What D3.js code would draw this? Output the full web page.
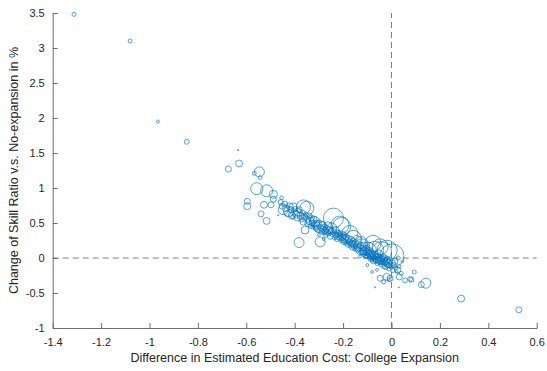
<!DOCTYPE html>
<html>
<head>
<meta charset="utf-8">
<script src="https://cdn.jsdelivr.net/npm/d3@7/dist/d3.min.js"></script>
<style>
  html, body { margin: 0; padding: 0; background: #fff; }
  svg { display: block; }
  text { font-family: "Liberation Sans", Arial, Helvetica, sans-serif; fill: #262626; }
</style>
</head>
<body>
<svg id="chart" width="547" height="371"></svg>
<script>
// Axis ticks
const xTicks = [-1.4, -1.2, -1, -0.8, -0.6, -0.4, -0.2, 0, 0.2, 0.4, 0.6];
const yTicks = [-1, -0.5, 0, 0.5, 1, 1.5, 2, 2.5, 3, 3.5];

// Regions: [cost difference, change of skill ratio (%), weight]
// Isolated regions far from the main band
const outliers = [
  [-1.312, 3.48, 4], [-1.080, 3.10, 4], [-0.965, 1.95, 2.2], [-0.846, 1.66, 6],
  [-0.674, 1.27, 9], [-0.630, 1.35, 12], [-0.634, 1.54, 0.4], [-0.546, 1.23, 25],
  [-0.567, 1.21, 4], [-0.543, 1.15, 4], [-0.557, 0.99, 36], [-0.516, 0.96, 36],
  [-0.488, 0.91, 16], [-0.596, 0.81, 9], [-0.596, 0.74, 12], [-0.527, 0.76, 12],
  [-0.498, 0.76, 9], [-0.488, 0.84, 9], [-0.539, 0.63, 9], [-0.516, 0.53, 12],
  [-0.454, 0.86, 3.5], [-0.382, 0.22, 25], [-0.468, 0.61, 0.4]
];

// Upper part of the band
const bandUpper = [
  [-0.458, 0.80, 6], [-0.452, 0.74, 9], [-0.447, 0.69, 25], [-0.441, 0.77, 9],
  [-0.436, 0.71, 12], [-0.430, 0.64, 9], [-0.426, 0.66, 25], [-0.421, 0.74, 12],
  [-0.416, 0.69, 9], [-0.412, 0.61, 12], [-0.408, 0.58, 4], [-0.406, 0.73, 16],
  [-0.401, 0.66, 9], [-0.397, 0.70, 6], [-0.393, 0.62, 12], [-0.389, 0.57, 9],
  [-0.385, 0.65, 16], [-0.381, 0.69, 9], [-0.376, 0.60, 12], [-0.372, 0.55, 6],
  [-0.368, 0.64, 9], [-0.364, 0.73, 49], [-0.364, 0.52, 12], [-0.360, 0.58, 9],
  [-0.357, 0.40, 16], [-0.354, 0.62, 6], [-0.350, 0.71, 49], [-0.348, 0.55, 9],
  [-0.344, 0.50, 12], [-0.341, 0.60, 9]
];

// Middle part of the band
const bandMiddle = [
  [-0.337, 0.53, 16], [-0.334, 0.46, 6], [-0.331, 0.57, 9], [-0.328, 0.50, 9],
  [-0.325, 0.44, 4], [-0.322, 0.55, 12], [-0.319, 0.48, 9], [-0.316, 0.52, 25],
  [-0.313, 0.42, 6], [-0.310, 0.50, 9], [-0.307, 0.46, 12], [-0.304, 0.40, 6],
  [-0.301, 0.49, 9], [-0.298, 0.45, 36], [-0.295, 0.23, 25], [-0.292, 0.43, 9],
  [-0.289, 0.38, 6], [-0.286, 0.47, 12], [-0.283, 0.41, 9], [-0.280, 0.36, 4],
  [-0.277, 0.44, 9], [-0.274, 0.39, 12], [-0.271, 0.33, 6], [-0.268, 0.42, 9],
  [-0.265, 0.37, 9], [-0.262, 0.46, 16], [-0.259, 0.35, 6], [-0.256, 0.40, 12],
  [-0.253, 0.31, 9], [-0.250, 0.38, 9], [-0.247, 0.43, 25], [-0.244, 0.34, 6],
  [-0.240, 0.57, 100], [-0.238, 0.37, 9], [-0.235, 0.29, 4], [-0.232, 0.40, 12],
  [-0.229, 0.33, 9], [-0.226, 0.27, 6], [-0.223, 0.36, 9], [-0.280, 0.27, 2],
  [-0.300, 0.33, 2],
  [-0.220, 0.31, 12], [-0.217, 0.35, 9], [-0.214, 0.28, 6], [-0.213, 0.47, 81],
  [-0.211, 0.32, 9], [-0.208, 0.25, 4], [-0.206, 0.45, 81], [-0.205, 0.34, 12],
  [-0.202, 0.29, 9], [-0.199, 0.23, 6], [-0.196, 0.32, 9], [-0.193, 0.27, 16],
  [-0.190, 0.21, 4], [-0.187, 0.30, 9], [-0.184, 0.25, 12], [-0.181, 0.19, 6],
  [-0.178, 0.28, 9], [-0.175, 0.23, 9], [-0.172, 0.35, 64], [-0.171, 0.17, 4],
  [-0.168, 0.26, 12], [-0.165, 0.21, 9], [-0.162, 0.15, 6], [-0.159, 0.24, 9],
  [-0.158, 0.28, 64], [-0.155, 0.19, 12], [-0.152, 0.13, 4], [-0.149, 0.22, 9],
  [-0.146, 0.17, 9], [-0.143, 0.25, 25], [-0.140, 0.12, 6], [-0.137, 0.20, 9],
  [-0.134, 0.15, 12], [-0.131, 0.10, 4], [-0.128, 0.18, 9], [-0.125, 0.22, 36],
  [-0.123, 0.16, 64], [-0.122, 0.08, 6]
];

// Lower part of the band, around zero cost difference
const bandLower = [
  [-0.119, 0.14, 9], [-0.117, 0.10, 12], [-0.115, 0.05, 4], [-0.113, 0.17, 16],
  [-0.111, 0.12, 9], [-0.109, 0.07, 6], [-0.107, 0.02, 4], [-0.105, 0.14, 9],
  [-0.103, 0.09, 12], [-0.101, 0.04, 6], [-0.099, 0.12, 9], [-0.096, 0.11, 64],
  [-0.095, 0.07, 9], [-0.093, 0.01, 4], [-0.091, 0.10, 12], [-0.089, 0.05, 9],
  [-0.087, -0.01, 6], [-0.085, 0.08, 9], [-0.083, 0.03, 12], [-0.081, -0.03, 4],
  [-0.079, 0.06, 9], [-0.077, 0.01, 9], [-0.076, 0.21, 64], [-0.075, -0.05, 6],
  [-0.073, 0.04, 12], [-0.071, -0.01, 9], [-0.069, 0.11, 81], [-0.067, 0.02, 9],
  [-0.065, -0.04, 6], [-0.063, 0.05, 9], [-0.061, -0.02, 12], [-0.059, -0.08, 4],
  [-0.057, 0.02, 9], [-0.055, -0.03, 9], [-0.053, 0.06, 16], [-0.051, -0.06, 6],
  [-0.049, 0.00, 9], [-0.047, 0.16, 64], [-0.045, -0.04, 12], [-0.043, -0.10, 4],
  [-0.041, 0.09, 100], [-0.040, -0.01, 9], [-0.038, -0.06, 6], [-0.036, 0.02, 9],
  [-0.034, -0.08, 4], [-0.032, -0.03, 12], [-0.030, -0.12, 6], [-0.028, 0.00, 9],
  [-0.026, -0.06, 9], [-0.024, -0.14, 4], [-0.022, -0.04, 12], [-0.020, -0.09, 6],
  [-0.018, 0.11, 100], [-0.016, -0.02, 9], [-0.014, -0.11, 6], [-0.012, -0.06, 9],
  [-0.010, -0.16, 4], [-0.008, -0.04, 9], [-0.006, -0.29, 9], [-0.004, -0.09, 6],
  [-0.002, -0.13, 4], [0.002, 0.03, 144], [0.004, -0.07, 9], [0.006, -0.18, 4],
  [0.010, -0.10, 6], [0.014, -0.05, 9], [0.018, -0.14, 4], [0.022, -0.20, 2],
  [0.026, -0.17, 9], [0.028, 0.00, 4], [0.030, -0.12, 4], [0.032, -0.27, 9],
  [0.031, -0.42, 0.4], [-0.047, -0.29, 9], [-0.033, -0.34, 4], [-0.020, -0.27, 12],
  [-0.010, -0.31, 4], [-0.068, -0.42, 0.4], [-0.080, -0.20, 2], [-0.060, -0.17, 2],
  [-0.100, -0.10, 2], [-0.130, 0.02, 2], [0.040, -0.22, 4], [0.045, -0.05, 2]
];

// Regions with a positive cost difference
const rightTail = [
  [0.094, -0.20, 4], [0.056, -0.32, 6], [0.077, -0.30, 6], [0.083, -0.31, 6],
  [0.123, -0.38, 9], [0.142, -0.36, 25], [0.288, -0.58, 12], [0.526, -0.74, 9]
];

const points = [].concat(outliers, bandUpper, bandMiddle, bandLower, rightTail)
  .map(([x, y, w]) => ({ x, y, w }));

const svg = d3.select("#chart");
const margin = { left: 52.7, top: 13, right: 10.3, bottom: 43 };
const W = 547, H = 371;

const x = d3.scaleLinear().domain([-1.4, 0.6]).range([margin.left, W - margin.right]);
const y = d3.scaleLinear().domain([-1, 3.5]).range([H - margin.bottom, margin.top]);
const r = d3.scaleSqrt().domain([0, 144]).range([0, 12]);

const fmt = d => String(d);

// Reference lines at zero
const refs = svg.append("g")
  .attr("stroke", "#808080")
  .attr("stroke-width", 1)
  .attr("stroke-dasharray", "6,4");
refs.append("line")
  .attr("x1", x(-1.4)).attr("x2", x(0.6))
  .attr("y1", y(0)).attr("y2", y(0));
refs.append("line")
  .attr("x1", x(0)).attr("x2", x(0))
  .attr("y1", y(-1)).attr("y2", y(3.5));

// Bubbles
svg.append("g")
  .selectAll("circle")
  .data(points)
  .join("circle")
  .attr("cx", d => x(d.x))
  .attr("cy", d => y(d.y))
  .attr("r", d => Math.max(r(d.w), 0.6))
  .attr("fill", "none")
  .attr("stroke", "#0072BD")
  .attr("stroke-width", 0.65);

// Axes with inward ticks
const xAxis = svg.append("g")
  .attr("transform", `translate(0,${y(-1)})`)
  .call(d3.axisBottom(x).tickValues(xTicks).tickFormat(fmt).tickSizeInner(-5).tickSizeOuter(0).tickPadding(10));
const yAxis = svg.append("g")
  .attr("transform", `translate(${x(-1.4)},0)`)
  .call(d3.axisLeft(y).tickValues(yTicks).tickFormat(fmt).tickSizeInner(-5).tickSizeOuter(0).tickPadding(8));

[xAxis, yAxis].forEach(g => {
  g.select(".domain").attr("stroke", "#6e6e6e").attr("stroke-width", 1);
  g.selectAll(".tick line").attr("stroke", "#6e6e6e").attr("stroke-width", 1);
  g.selectAll(".tick text")
    .attr("fill", "#262626")
    .style("font-size", "11px")
    .style("font-family", '"Liberation Sans", Arial, Helvetica, sans-serif');
});

// Axis titles
svg.append("text")
  .attr("x", (x(-1.4) + x(0.6)) / 2)
  .attr("y", 362)
  .attr("text-anchor", "middle")
  .style("font-size", "12.5px")
  .text("Difference in Estimated Education Cost: College Expansion");

svg.append("text")
  .attr("transform", `translate(18,${(y(-1) + y(3.5)) / 2}) rotate(-90)`)
  .attr("text-anchor", "middle")
  .style("font-size", "12.5px")
  .text("Change of Skill Ratio v.s. No-expansion in %");
</script>
</body>
</html>
